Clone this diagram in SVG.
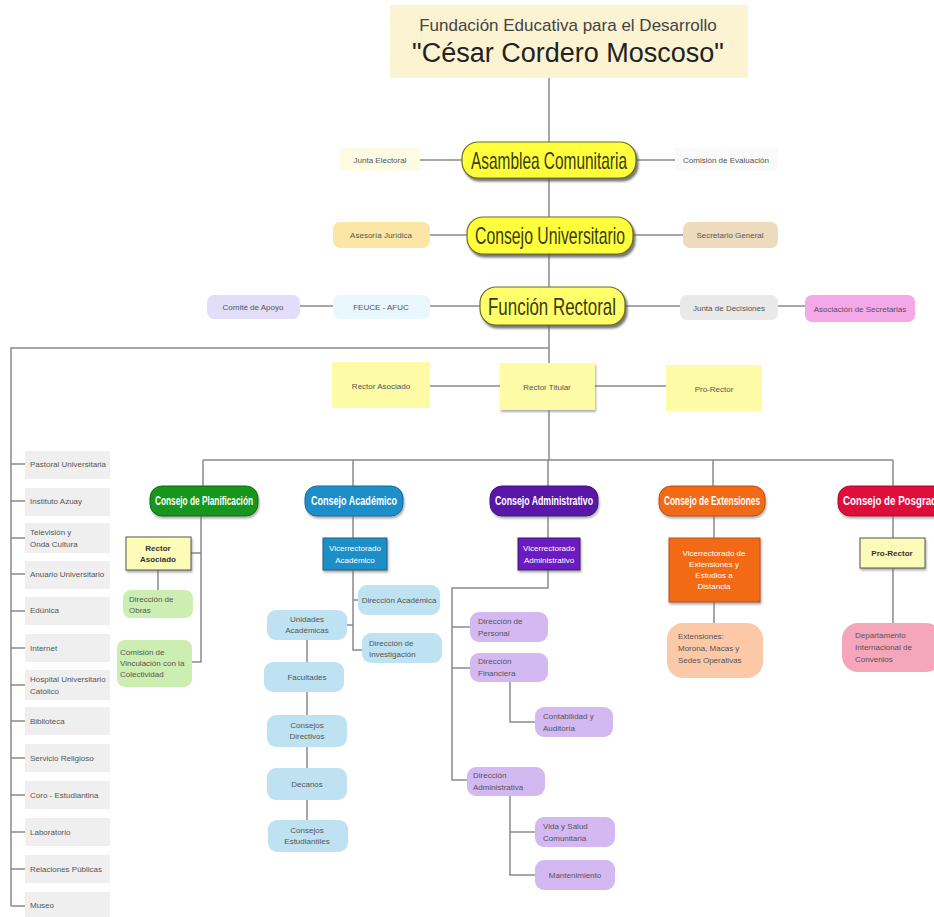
<svg xmlns="http://www.w3.org/2000/svg" width="934" height="917" viewBox="0 0 934 917">
<defs>
<filter id="sh" x="-10%" y="-20%" width="125%" height="150%"><feDropShadow dx="2" dy="3" stdDeviation="1" flood-color="#555" flood-opacity="0.8"/></filter>
<filter id="sh2" x="-10%" y="-20%" width="125%" height="150%"><feDropShadow dx="1" dy="2" stdDeviation="0.8" flood-color="#777" flood-opacity="0.6"/></filter>
</defs>
<style>
text{font-family:"Liberation Sans",Arial,sans-serif;text-anchor:middle}
.c{fill:none;stroke:#8a8a8a;stroke-width:1.5}
.big{font-size:24px;fill:#3a3a10}
.s{font-size:8px;fill:#555}
.l{text-anchor:start}
.w{font-size:12px;fill:#fff;font-weight:bold}
.lc{fill:#efefef}
</style>
<rect width="934" height="917" fill="#fff"/>
<g id="connectors">
<path class="c" d="M549,78 V460"/>
<path class="c" d="M420,160 H462 M636,160 H675"/>
<path class="c" d="M430,235 H467 M633,235 H683"/>
<path class="c" d="M300,306 H333 M430,306 H480 M625,306 H680 M778,306 H805"/>
<path class="c" d="M430,386 H500 M595,386 H666"/>
<path class="c" d="M549,348 H11 V906"/>
<path class="c" d="M11,464 H25 M11,501 H25 M11,538 H25 M11,574 H25 M11,611 H25 M11,648 H25 M11,685 H25 M11,721 H25 M11,758 H25 M11,795 H25 M11,832 H25 M11,869 H25 M11,906 H25"/>
<path class="c" d="M203,460 H893 M203,460 V486 M353,460 V486 M548,460 V486 M713,460 V486 M893,460 V486"/>
<path class="c" d="M201,516 V662 H192 M191,553 H201 M158,570 V590"/>
<path class="c" d="M353,516 V650 H362 M353,600 H358 M347,625 H353 M307,640 V820"/>
<path class="c" d="M548,516 V588 H452 V780 H467 M452,627 H470 M452,668 H470 M510,682 V722 H535 M510,795 V875 H535 M510,832 H535"/>
<path class="c" d="M714,516 V623 M893,516 V623"/>
</g>
<g id="fundacion">
<rect x="390" y="5" width="358" height="73" fill="#fbf3d2"/>
<text x="568" y="31" style="font-size:17px;fill:#444">Fundación Educativa para el Desarrollo</text>
<text x="568" y="62" style="font-size:27px;fill:#222">"César Cordero Moscoso"</text>
</g>
<g id="asamblea">
<rect x="462" y="142" width="174" height="36" rx="16" fill="#ffff3a" stroke="#6b6b20" stroke-width="1.2" filter="url(#sh)"/>
<text class="big" x="549" y="169" textLength="156" lengthAdjust="spacingAndGlyphs">Asamblea Comunitaria</text>
</g>
<g id="junta-electoral">
<rect x="340" y="148" width="80" height="23" fill="#fdfbe4"/>
<text class="s" x="380" y="163">Junta Electoral</text>
</g>
<g id="comision-evaluacion">
<rect x="675" y="148" width="103" height="23" fill="#fafafa"/>
<text class="s l" x="683" y="163">Comisión de Evaluación</text>
</g>
<g id="consejo-universitario">
<rect x="467" y="217" width="166" height="37" rx="16" fill="#ffff3a" stroke="#6b6b20" stroke-width="1.2" filter="url(#sh)"/>
<text class="big" x="550" y="244" textLength="150" lengthAdjust="spacingAndGlyphs">Consejo Universitario</text>
</g>
<g id="asesoria">
<rect x="333" y="222" width="97" height="26" rx="7" fill="#fbe6a6"/>
<text class="s" x="381" y="238">Asesoría Jurídica</text>
</g>
<g id="secretario">
<rect x="683" y="222" width="95" height="26" rx="7" fill="#eedbbd"/>
<text class="s" x="730" y="238">Secretario General</text>
</g>
<g id="funcion-rectoral">
<rect x="480" y="287" width="145" height="38" rx="16" fill="#ffff6a" stroke="#6b6b20" stroke-width="1.2" filter="url(#sh)"/>
<text class="big" x="552" y="315" textLength="128" lengthAdjust="spacingAndGlyphs">Función Rectoral</text>
</g>
<g id="comite-apoyo">
<rect x="207" y="295" width="93" height="24" rx="7" fill="#e2defa"/>
<text class="s" x="253" y="310">Comité de Apoyo</text>
</g>
<g id="feuce">
<rect x="333" y="295" width="97" height="24" rx="7" fill="#e8f7fc"/>
<text class="s" x="381" y="310">FEUCE - AFUC</text>
</g>
<g id="junta-decisiones">
<rect x="680" y="295" width="98" height="25" rx="7" fill="#e9e9e9"/>
<text class="s" x="729" y="311">Junta de Decisiones</text>
</g>
<g id="asociacion-secretarias">
<rect x="805" y="295" width="110" height="27" rx="7" fill="#f4a8e8"/>
<text class="s" x="860" y="312">Asociación de Secretarias</text>
</g>
<g id="rector-asociado">
<rect x="332" y="362" width="98" height="46" fill="#fdfba6"/>
<text class="s" x="381" y="389">Rector Asociado</text>
</g>
<g id="rector-titular">
<rect x="500" y="363" width="95" height="47" fill="#fdfba6" filter="url(#sh2)"/>
<text class="s" x="547" y="390">Rector Titular</text>
</g>
<g id="pro-rector">
<rect x="666" y="365" width="96" height="46" fill="#fdfba6"/>
<text class="s" x="714" y="392">Pro-Rector</text>
</g>
<g id="left-units">
<rect class="lc" x="25" y="451" width="85" height="28"/><text class="s l" x="30" y="467">Pastoral Universitaria</text>
<rect class="lc" x="25" y="488" width="85" height="28"/><text class="s l" x="30" y="504">Instituto Azuay</text>
<rect class="lc" x="25" y="523" width="85" height="30"/><text class="s l" x="30" y="535">Televisión y</text><text class="s l" x="30" y="547">Onda Cultura</text>
<rect class="lc" x="25" y="561" width="85" height="28"/><text class="s l" x="30" y="577">Anuario Universitario</text>
<rect class="lc" x="25" y="597" width="85" height="28"/><text class="s l" x="30" y="613">Edúnica</text>
<rect class="lc" x="25" y="634" width="85" height="28"/><text class="s l" x="30" y="651">Internet</text>
<rect class="lc" x="25" y="670" width="85" height="30"/><text class="s l" x="30" y="682">Hospital Universitario</text><text class="s l" x="30" y="694">Católico</text>
<rect class="lc" x="25" y="707" width="85" height="28"/><text class="s l" x="30" y="724">Biblioteca</text>
<rect class="lc" x="25" y="744" width="85" height="28"/><text class="s l" x="30" y="761">Servicio Religioso</text>
<rect class="lc" x="25" y="781" width="85" height="28"/><text class="s l" x="30" y="798">Coro - Estudiantina</text>
<rect class="lc" x="25" y="818" width="85" height="28"/><text class="s l" x="30" y="835">Laboratorio</text>
<rect class="lc" x="25" y="855" width="85" height="28"/><text class="s l" x="30" y="872">Relaciones Públicas</text>
<rect class="lc" x="25" y="892" width="85" height="25"/><text class="s l" x="30" y="908">Museo</text>
</g>
<g id="consejo-planificacion">
<rect x="150" y="486" width="108" height="30" rx="12" fill="#17961c" stroke="#0c6a10" filter="url(#sh2)"/>
<text class="w" x="204" y="505" textLength="98" lengthAdjust="spacingAndGlyphs">Consejo de Planificación</text>
</g>
<g id="plan-rector-asociado">
<rect x="126" y="537" width="65" height="33" fill="#fdfbb8" stroke="#555" stroke-width="1" filter="url(#sh2)"/>
<text x="158" y="551" style="font-size:8px;font-weight:bold;fill:#333">Rector</text>
<text x="158" y="562" style="font-size:8px;font-weight:bold;fill:#333">Asociado</text>
</g>
<g id="direccion-obras">
<rect x="123" y="590" width="70" height="28" rx="8" fill="#cdeeb2"/>
<text class="s l" x="129" y="602">Dirección de</text><text class="s l" x="129" y="613">Obras</text>
</g>
<g id="comision-vinculacion">
<rect x="117" y="640" width="75" height="47" rx="8" fill="#cdeeb2"/>
<text class="s l" x="120" y="655">Comisión de</text><text class="s l" x="120" y="666">Vinculación con la</text><text class="s l" x="120" y="677">Colectividad</text>
</g>
<g id="consejo-academico">
<rect x="305" y="486" width="98" height="30" rx="12" fill="#1e8ec9" stroke="#136aa0" filter="url(#sh2)"/>
<text class="w" x="354" y="505" textLength="86" lengthAdjust="spacingAndGlyphs">Consejo Académico</text>
</g>
<g id="vicerrectorado-academico">
<rect x="323" y="538" width="64" height="32" fill="#1f8fc8" stroke="#2a5a80" filter="url(#sh2)"/>
<text x="355" y="551" style="font-size:8px;fill:#fff">Vicerrectorado</text><text x="355" y="563" style="font-size:8px;fill:#fff">Académico</text>
</g>
<g id="direccion-academica">
<rect x="358" y="585" width="82" height="30" rx="9" fill="#bfe2f2"/>
<text class="s" x="399" y="603">Dirección Académica</text>
</g>
<g id="direccion-investigacion">
<rect x="362" y="633" width="80" height="30" rx="9" fill="#bfe2f2"/>
<text class="s l" x="369" y="646">Dirección de</text><text class="s l" x="369" y="657">Investigación</text>
</g>
<g id="unidades-academicas">
<rect x="267" y="610" width="80" height="30" rx="9" fill="#bfe2f2"/>
<text class="s" x="307" y="622">Unidades</text><text class="s" x="307" y="633">Académicas</text>
</g>
<g id="facultades">
<rect x="264" y="662" width="80" height="30" rx="9" fill="#bfe2f2"/>
<text class="s" x="307" y="680">Facultades</text>
</g>
<g id="consejos-directivos">
<rect x="267" y="715" width="80" height="32" rx="9" fill="#bfe2f2"/>
<text class="s" x="307" y="728">Consejos</text><text class="s" x="307" y="739">Directivos</text>
</g>
<g id="decanos">
<rect x="267" y="768" width="80" height="32" rx="9" fill="#bfe2f2"/>
<text class="s" x="307" y="787">Decanos</text>
</g>
<g id="consejos-estudiantiles">
<rect x="268" y="820" width="80" height="32" rx="9" fill="#bfe2f2"/>
<text class="s" x="307" y="833">Consejos</text><text class="s" x="307" y="844">Estudiantiles</text>
</g>
<g id="consejo-administrativo">
<rect x="490" y="486" width="108" height="30" rx="12" fill="#5a18a8" stroke="#3d0f7a" filter="url(#sh2)"/>
<text class="w" x="544" y="505" textLength="98" lengthAdjust="spacingAndGlyphs">Consejo Administrativo</text>
</g>
<g id="vicerrectorado-administrativo">
<rect x="518" y="538" width="62" height="32" fill="#6a1fc0" stroke="#3a1070" filter="url(#sh2)"/>
<text x="549" y="551" style="font-size:8px;fill:#fff">Vicerrectorado</text><text x="549" y="563" style="font-size:8px;fill:#fff">Administrativo</text>
</g>
<g id="direccion-personal">
<rect x="470" y="612" width="78" height="30" rx="9" fill="#d3b8f2"/>
<text class="s l" x="478" y="624">Dirección de</text><text class="s l" x="478" y="636">Personal</text>
</g>
<g id="direccion-financiera">
<rect x="470" y="653" width="78" height="29" rx="9" fill="#d3b8f2"/>
<text class="s l" x="478" y="664">Dirección</text><text class="s l" x="478" y="676">Financiera</text>
</g>
<g id="contabilidad">
<rect x="535" y="707" width="78" height="30" rx="9" fill="#d3b8f2"/>
<text class="s l" x="543" y="719">Contabilidad y</text><text class="s l" x="543" y="731">Auditoría</text>
</g>
<g id="direccion-administrativa">
<rect x="467" y="767" width="78" height="29" rx="9" fill="#d3b8f2"/>
<text class="s l" x="473" y="778">Dirección</text><text class="s l" x="473" y="790">Administrativa</text>
</g>
<g id="vida-salud">
<rect x="535" y="817" width="80" height="30" rx="9" fill="#d3b8f2"/>
<text class="s l" x="543" y="829">Vida y Salud</text><text class="s l" x="543" y="841">Comunitaria</text>
</g>
<g id="mantenimiento">
<rect x="535" y="860" width="80" height="30" rx="9" fill="#d3b8f2"/>
<text class="s" x="575" y="878">Mantenimiento</text>
</g>
<g id="consejo-extensiones">
<rect x="659" y="486" width="106" height="30" rx="12" fill="#f26b15" stroke="#c04d08" filter="url(#sh2)"/>
<text class="w" x="712" y="505" textLength="96" lengthAdjust="spacingAndGlyphs">Consejo de Extensiones</text>
</g>
<g id="vicerrectorado-extensiones">
<rect x="669" y="538" width="91" height="64" fill="#f26b15" stroke="#b85010" filter="url(#sh2)"/>
<text x="714" y="556" style="font-size:8px;fill:#fff">Vicerrectorado de</text>
<text x="714" y="567" style="font-size:8px;fill:#fff">Extensiones y</text>
<text x="714" y="578" style="font-size:8px;fill:#fff">Estudios a</text>
<text x="714" y="589" style="font-size:8px;fill:#fff">Distancia</text>
</g>
<g id="extensiones">
<rect x="667" y="623" width="96" height="55" rx="16" fill="#fbc9a8"/>
<text class="s l" x="678" y="639">Extensiones:</text>
<text class="s l" x="678" y="651">Morona, Macas y</text>
<text class="s l" x="678" y="663">Sedes Operativas</text>
</g>
<g id="consejo-posgrado">
<rect x="838" y="486" width="112" height="30" rx="12" fill="#e0103a" stroke="#a80a2a" filter="url(#sh2)"/>
<text class="w" x="893" y="505" textLength="100" lengthAdjust="spacingAndGlyphs">Consejo de Posgrado</text>
</g>
<g id="posgrado-pro-rector">
<rect x="860" y="538" width="65" height="30" fill="#fdfbb8" stroke="#555" filter="url(#sh2)"/>
<text x="892" y="556" style="font-size:8px;font-weight:bold;fill:#333">Pro-Rector</text>
</g>
<g id="departamento-internacional">
<rect x="842" y="623" width="100" height="49" rx="16" fill="#f5a6ba"/>
<text class="s l" x="855" y="638">Departamento</text>
<text class="s l" x="855" y="650">Internacional de</text>
<text class="s l" x="855" y="662">Convenios</text>
</g>
</svg>
